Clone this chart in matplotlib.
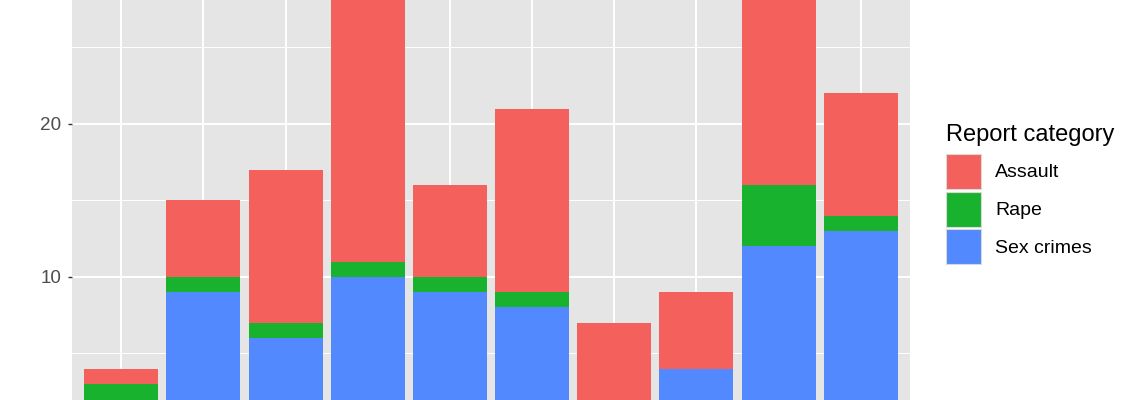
import matplotlib.pyplot as plt
from matplotlib.patches import Patch

# Data (bottom of the bars is cropped)
groups = ['G1', 'G2', 'G3', 'G4', 'G5', 'G6', 'G7', 'G8', 'G9', 'G10']
sex_crimes = [0, 9, 6, 10, 9, 8, 0, 4, 12, 13]
rape = [3, 1, 1, 1, 1, 1, 0, 0, 4, 1]
assault = [1, 5, 10, 19, 6, 12, 7, 5, 14, 8]
series_names = ['Assault', 'Rape', 'Sex crimes']
colors = {'Assault': '#F4605B', 'Rape': '#19B22F', 'Sex crimes': '#5289FE'}

plt.rcParams['font.family'] = ['Liberation Sans', 'DejaVu Sans']

W, H = 1140, 400
fig = plt.figure(figsize=(W / 100, H / 100), dpi=100)
ax = fig.add_axes([72 / W, 0, (910 - 72) / W, 1])
ax.set_facecolor('#E5E5E5')

x = range(len(groups))
bottom2 = [s + r for s, r in zip(sex_crimes, rape)]
ax.bar(x, sex_crimes, width=0.9, color=colors['Sex crimes'], zorder=2)
ax.bar(x, rape, width=0.9, bottom=sex_crimes, color=colors['Rape'], zorder=2)
ax.bar(x, assault, width=0.9, bottom=bottom2, color=colors['Assault'], zorder=2)

# the picture is a crop: y runs from ~2 (bottom edge) to ~28 (top edge)
ax.set_xlim(-0.6, len(groups) - 0.4)
ax.set_ylim(1.95, 28.1)
ax.set_xticks(list(x))
ax.set_yticks([10, 20])
ax.set_yticks([5, 15, 25], minor=True)

ax.grid(True, which='major', color='white', linewidth=1.4, zorder=0)
ax.grid(True, which='minor', axis='y', color='white', linewidth=0.7, zorder=0)
ax.set_axisbelow(True)
for sp in ax.spines.values():
    sp.set_visible(False)
ax.tick_params(axis='y', which='major', length=3, width=1, color='#333333',
               labelsize=13.6, labelcolor='#4D4D4D', pad=4.5)
ax.tick_params(axis='y', which='minor', length=0)
ax.tick_params(axis='x', length=3, color='#333333', labelbottom=False)

# Legend
fig.text(946 / W, 1 - 141 / H, 'Report category', fontsize=17,
         ha='left', va='baseline')
handles = [Patch(facecolor=colors[n], edgecolor='#D9D9D9', linewidth=0.8)
           for n in series_names]
fig.legend(handles, series_names, loc='upper left',
           bbox_to_anchor=(946 / W, 1 - 154 / H),
           frameon=False, fontsize=14,
           handlelength=1.8, handleheight=2.39, labelspacing=0.14,
           handletextpad=0.72, borderpad=0, borderaxespad=0)

fig.savefig('out.png', dpi=100)
